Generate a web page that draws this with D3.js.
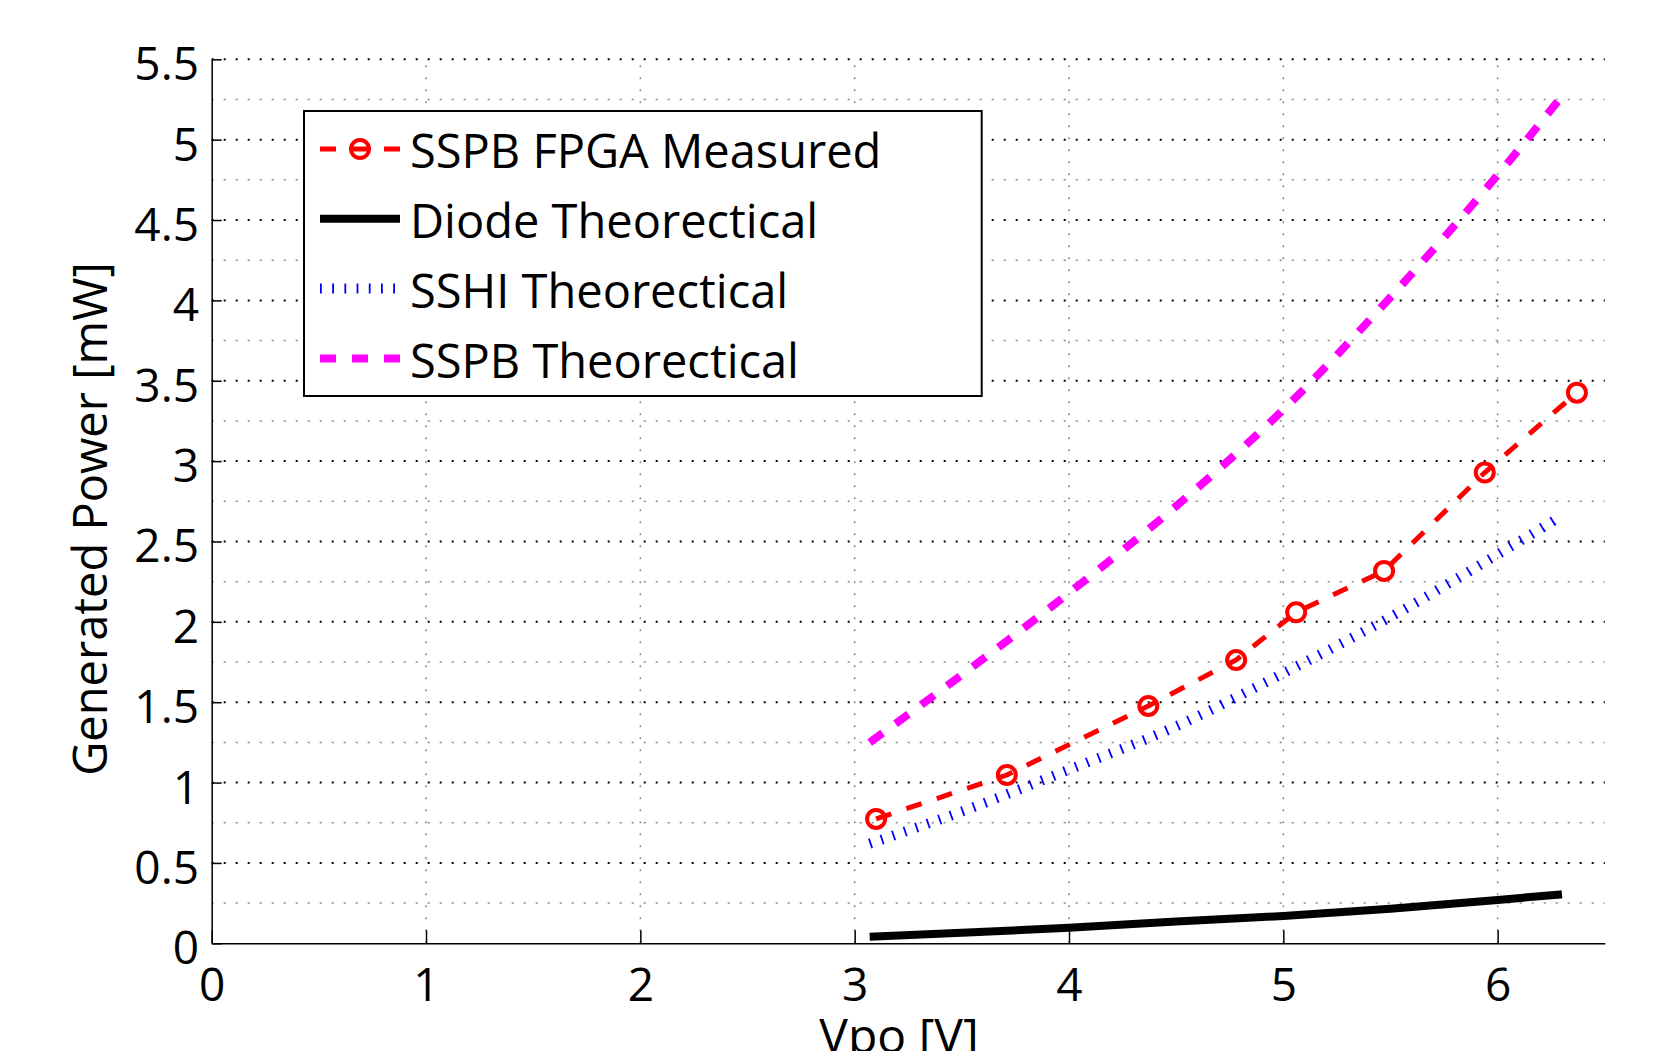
<!DOCTYPE html>
<meta charset="utf-8">
<style>
body { margin: 0; background: #fff; }
text { font-family: "Open Sans", sans-serif; fill: #000; }
.axis path, .axis line { stroke: #000; stroke-width: 1.5px; }
</style>
<svg width="1655" height="1051"></svg>
<script src="https://d3js.org/d3.v7.min.js"></script>
<script>
// measured points (SSPB on FPGA)
var measuredV = [3.10, 3.71, 4.37, 4.78, 5.06, 5.47, 5.94, 6.37],
    measuredP = [0.774, 1.047, 1.477, 1.763, 2.06, 2.317, 2.929, 3.426];

// theoretical curves
var theoV  = [3.07, 3.5, 4.0, 4.5, 5.0, 5.5, 6.0, 6.3],
    diodeP = [0.04, 0.065, 0.097, 0.135, 0.17, 0.215, 0.27, 0.305],
    sshiP  = [0.62, 0.82, 1.08, 1.35, 1.68, 2.03, 2.42, 2.66],
    sspbP  = [1.25, 1.67, 2.18, 2.72, 3.32, 4.02, 4.78, 5.27];

var xTicks = [0, 1, 2, 3, 4, 5, 6],
    xTickLabels = ["0", "1", "2", "3", "4", "5", "6"],
    yTicks = [0, 0.5, 1, 1.5, 2, 2.5, 3, 3.5, 4, 4.5, 5, 5.5],
    yTickLabels = ["0", "0.5", "1", "1.5", "2", "2.5", "3", "3.5", "4", "4.5", "5", "5.5"],
    yMinor = [0.25, 0.75, 1.25, 1.75, 2.25, 2.75, 3.25, 3.75, 4.25, 4.75, 5.25];

var svg = d3.select("svg");

var x = d3.scaleLinear().domain([0, 6.5]).range([211.7, 1604.8]),
    y = d3.scaleLinear().domain([0, 5.5]).range([943.3, 59.3]);

function zip(v, p) { return v.map(function(d, i) { return [d, p[i]]; }); }

var series = [
  {name: "SSPB FPGA Measured", values: zip(measuredV, measuredP), color: "#ff0000", width: 5, dash: "16 16", marker: true, curve: d3.curveLinear},
  {name: "Diode Theorectical", values: zip(theoV, diodeP), color: "#000000", width: 8, dash: null, curve: d3.curveMonotoneX},
  {name: "SSHI Theorectical", values: zip(theoV, sshiP), color: "#0000ff", width: 10, dash: "1.8 10.4", curve: d3.curveMonotoneX},
  {name: "SSPB Theorectical", values: zip(theoV, sspbP), color: "#ff00ff", width: 8, dash: "16 16", curve: d3.curveMonotoneX}
];

//grid
var grid = svg.append("g");
grid.selectAll(".vgrid")
    .data(xTicks.slice(1))
  .enter().append("line")
    .attr("x1", function(d) { return x(d); })
    .attr("x2", function(d) { return x(d); })
    .attr("y1", y(0)).attr("y2", y(5.5))
    .attr("stroke", "#888").attr("stroke-width", 1.5)
    .attr("stroke-dasharray", "2 10");
grid.selectAll(".hminor")
    .data(yMinor)
  .enter().append("line")
    .attr("x1", x(0)).attr("x2", x(6.5))
    .attr("y1", function(d) { return y(d); })
    .attr("y2", function(d) { return y(d); })
    .attr("stroke", "#888").attr("stroke-width", 1.5)
    .attr("stroke-dasharray", "2 10");
grid.selectAll(".hmajor")
    .data(yTicks.slice(1))
  .enter().append("line")
    .attr("x1", x(0)).attr("x2", x(6.5))
    .attr("y1", function(d) { return y(d); })
    .attr("y2", function(d) { return y(d); })
    .attr("stroke", "#000").attr("stroke-width", 2)
    .attr("stroke-dasharray", "2 10");

//axes
var gx = svg.append("g")
    .attr("class", "axis")
    .attr("transform", "translate(0," + y(0) + ")")
    .call(d3.axisBottom(x).tickValues(xTicks)
      .tickFormat(function(d, i) { return xTickLabels[i]; })
      .tickSizeInner(-13).tickSizeOuter(0));
gx.selectAll("text")
    .attr("y", 57.7).attr("dy", null)
    .style("font-size", "46px").style("font-family", "Open Sans");

var gy = svg.append("g")
    .attr("class", "axis")
    .attr("transform", "translate(" + x(0) + ",0)")
    .call(d3.axisLeft(y).tickValues(yTicks)
      .tickFormat(function(d, i) { return yTickLabels[i]; })
      .tickSizeInner(-10).tickSizeOuter(0).tickPadding(12.7));
gy.selectAll("text")
    .attr("dy", "20.5")
    .style("font-size", "46px").style("font-family", "Open Sans");
svg.selectAll(".axis .domain").attr("stroke-width", 2);

//lines
var line = d3.line()
    .x(function(d) { return x(d[0]); })
    .y(function(d) { return y(d[1]); });

series.forEach(function(s) {
  svg.append("path")
      .attr("d", line.curve(s.curve)(s.values))
      .attr("fill", "none")
      .attr("stroke", s.color)
      .attr("stroke-width", s.width)
      .attr("stroke-dasharray", s.dash);
  if (s.marker) {
    svg.selectAll(null)
        .data(s.values)
      .enter().append("circle")
        .attr("cx", function(d) { return x(d[0]); })
        .attr("cy", function(d) { return y(d[1]); })
        .attr("r", 9)
        .attr("fill", "none")
        .attr("stroke", s.color)
        .attr("stroke-width", 4);
  }
});

//axis titles
svg.append("text")
    .attr("transform", "translate(107,519) rotate(-90)")
    .attr("text-anchor", "middle")
    .style("font-size", "47px")
    .text("Generated Power [mW]");

svg.append("text")
    .attr("x", 899)
    .attr("y", 1053)
    .attr("text-anchor", "middle")
    .style("font-size", "48px")
    .text("Vpo [V]");

//legend
var legend = svg.append("g");
legend.append("rect")
    .attr("x", 304).attr("y", 111)
    .attr("width", 677.7).attr("height", 285)
    .attr("fill", "#fff")
    .attr("stroke", "#000").attr("stroke-width", 2);

var item = legend.selectAll(".item")
    .data(series)
  .enter().append("g")
    .attr("transform", function(d, i) { return "translate(0," + (149 + i * 69.8) + ")"; });

item.append("line")
    .attr("x1", 320).attr("x2", 400)
    .attr("stroke", function(d) { return d.color; })
    .attr("stroke-width", function(d) { return d.width; })
    .attr("stroke-dasharray", function(d) { return d.dash; });

item.filter(function(d) { return d.marker; })
  .append("circle")
    .attr("cx", 360).attr("r", 9)
    .attr("fill", "none")
    .attr("stroke", function(d) { return d.color; })
    .attr("stroke-width", 4);

item.append("text")
    .attr("x", 410).attr("y", 19.3)
    .style("font-size", "47px")
    .text(function(d) { return d.name; });
</script>
